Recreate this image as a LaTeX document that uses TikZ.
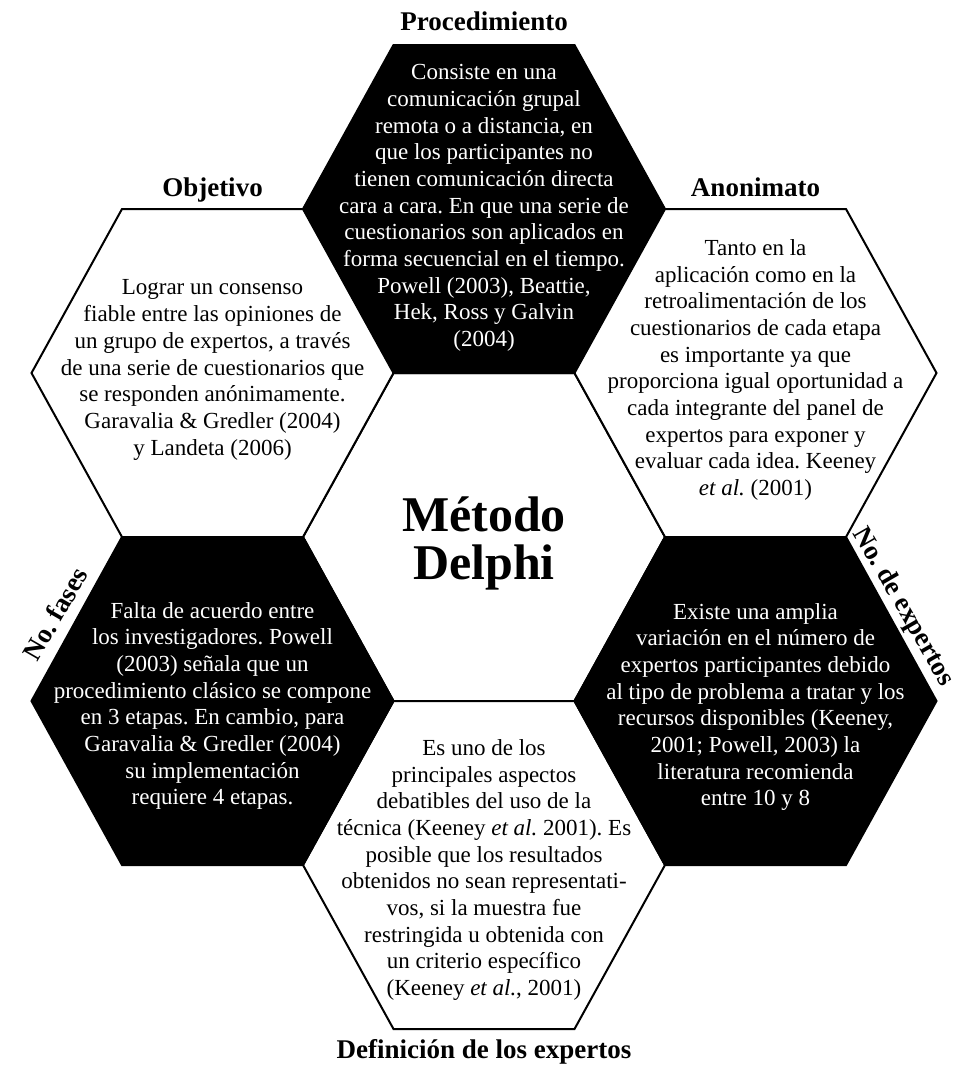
\documentclass[tikz,border=0pt]{standalone}
\usepackage{fontspec}
\setmainfont{Liberation Serif}
\frenchspacing
\tikzset{
  hexcell/.style={draw=black,line width=2pt,line join=miter},
  txtw/.style={align=center,text=black,inner sep=0pt,font=\fontsize{23}{26.7}\selectfont},
  txtb/.style={txtw,text=white},
  titulo/.style={anchor=base,inner sep=0pt,font=\bfseries\fontsize{27}{30}\selectfont},
}
\begin{document}
\begin{tikzpicture}[x=1pt,y=-1pt]
\useasboundingbox (0,0) rectangle (961,1066);
% panal
\foreach \cx/\cy/\fc in {484/537/white,484/209/black,484/865/white,212.5/373/white,755.5/373/white,212.5/701/black,755.5/701/black}
  \draw[hexcell,fill=\fc] (\cx-181,\cy) -- (\cx-90.5,\cy-164) -- (\cx+90.5,\cy-164)
    -- (\cx+181,\cy) -- (\cx+90.5,\cy+164) -- (\cx-90.5,\cy+164) -- cycle;
% centro
\node[align=center,inner sep=0pt,font=\bfseries\fontsize{50}{48}\selectfont] (delphi) at (484,543) {Método\\Delphi};
% textos
\node[txtb] (proc) at (484,208) {Consiste en una\\comunicación grupal\\remota o a distancia, en\\que los participantes no\\tienen comunicación directa\\cara a cara. En que una serie de\\cuestionarios son aplicados en\\forma secuencial en el tiempo.\\Powell (2003), Beattie,\\Hek, Ross y Galvin\\(2004)};
\node[txtw] (obj) at (212.5,370) {Lograr un consenso\\fiable entre las opiniones de\\un grupo de expertos, a través\\de una serie de cuestionarios que\\se responden anónimamente.\\Garavalia \& Gredler (2004)\\y Landeta (2006)};
\node[txtw] (anon) at (755.5,370) {Tanto en la\\aplicación como en la\\retroalimentación de los\\cuestionarios de cada etapa\\es importante ya que\\proporciona igual oportunidad a\\cada integrante del panel de\\expertos para exponer y\\evaluar cada idea. Keeney\\\textit{et al.} (2001)};
\node[txtb] (fases) at (212.5,706) {Falta de acuerdo entre\\los investigadores. Powell\\(2003) señala que un\\procedimiento clásico se compone\\en 3 etapas. En cambio, para\\Garavalia \& Gredler (2004)\\su implementación\\requiere 4 etapas.};
\node[txtb] (nexp) at (755.5,707) {Existe una amplia\\variación en el número de\\expertos participantes debido\\al tipo de problema a tratar y los\\recursos disponibles (Keeney,\\2001; Powell, 2003) la\\literatura recomienda\\entre 10 y 8};
\node[txtw] (defi) at (484,870) {Es uno de los\\principales aspectos\\debatibles del uso de la\\técnica (Keeney \textit{et al.} 2001). Es\\posible que los resultados\\obtenidos no sean representati-\\vos, si la muestra fue\\restringida u obtenida con\\un criterio específico\\(Keeney \textit{et al.}, 2001)};
% titulos
\node[titulo] (tproc) at (484,30) {Procedimiento};
\node[titulo] (tobj) at (212.5,196) {Objetivo};
\node[titulo] (tanon) at (755.5,196) {Anonimato};
\node[titulo] (tdefi) at (484,1058) {Definición de los expertos};
\node[titulo,anchor=center,rotate=60] (tfases) at (55,614) {No. fases};
\node[titulo,anchor=center,rotate=-60] (tnexp) at (903,607) {No. de expertos};
\end{tikzpicture}
\end{document}
